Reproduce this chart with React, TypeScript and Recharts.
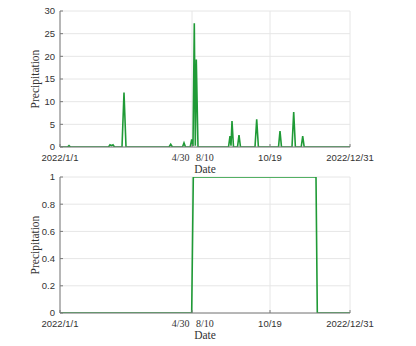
import React from 'react';
import { LineChart, Line, XAxis, YAxis, CartesianGrid } from 'recharts';

// x positions along the (non-uniform) date axis, in axis units
const rainTime = [0, 7.5, 9, 10.5, 48.5, 50, 51.5, 53, 54.5, 62, 64, 66, 109, 110.7, 112.4, 122.5, 124, 125.5, 130.2, 131.7, 133, 134.3, 135.3, 136.3, 138, 168.5, 170, 171, 172, 173.5, 177.5, 179, 180.5, 195, 196.7, 198.4, 218.5, 220, 221.5, 232, 233.7, 235.4, 241.2, 242.7, 244.2, 290];
const rainValues = [0, 0, 0.3, 0, 0, 0.5, 0.3, 0.5, 0, 0, 12, 0, 0, 0.6, 0, 0, 0.9, 0, 0, 1.7, 0.2, 27.3, 0.3, 19.3, 0, 0, 2.4, 0.3, 5.75, 0, 0, 2.6, 0, 0, 6.1, 0, 0, 3.5, 0, 0, 7.7, 0, 0, 2.4, 0, 0];

const flagTime = [0, 131.7, 133.3, 256, 257.3, 290];
const flagValues = [0, 0, 1, 1, 0, 0];

const xTickPositions = [0, 132, 210, 290];
const xTickLabels: string[][] = [['2022/1/1'], ['4/30', '8/10'], ['10/19'], ['2022/12/31']];
const xDomain = [0, 290];

const topYTicks = [0, 5, 10, 15, 20, 25, 30];
const bottomYTicks = [0, 0.2, 0.4, 0.6, 0.8, 1];

const xLabel = 'Date';
const yLabel = 'Precipitation';

const rainData = rainTime.map((t, i) => ({ t, v: rainValues[i] }));
const flagData = flagTime.map((t, i) => ({ t, v: flagValues[i] }));

const GREEN = '#1f9a36';
const AXIS = '#7a7a7a';
const TEXT = '#333333';
const SANS = '"Liberation Sans", Arial, sans-serif';
const SERIF = '"Liberation Serif", "Times New Roman", serif';

const LeftTick = (props: any) => {
  const { x, y, payload } = props;
  return (
    <g>
      <line x1={x} x2={x + 3} y1={y} y2={y} stroke={AXIS} />
      <text x={x - 5} y={y} dy="0.35em" textAnchor="end" fontSize={9.5} fontFamily={SANS} fill={TEXT}>
        {String(payload.value)}
      </text>
    </g>
  );
};

const RightTick = (props: any) => {
  const { x, y } = props;
  return <line x1={x - 3} x2={x} y1={y} y2={y} stroke={AXIS} />;
};

const TopTick = (props: any) => {
  const { x, y } = props;
  return <line x1={x} x2={x} y1={y} y2={y + 3} stroke={AXIS} />;
};

const BottomTick = (props: any) => {
  const { x, y, index } = props;
  const labels = xTickLabels[index] || [];
  return (
    <g>
      <line x1={x} x2={x} y1={y} y2={y - 3} stroke={AXIS} />
      {labels.length === 1 ? (
        <text x={x} y={y + 14} textAnchor="middle" fontSize={9.5} fontFamily={SANS} fill={TEXT}>
          {labels[0]}
        </text>
      ) : (
        <g>
          <text x={x - 2.5} y={y + 14} textAnchor="end" fontSize={10} fontFamily={SERIF} fill={TEXT}>
            {labels[0]}
          </text>
          <text x={x + 4} y={y + 14} textAnchor="start" fontSize={10} fontFamily={SERIF} fill={TEXT}>
            {labels[1]}
          </text>
        </g>
      )}
    </g>
  );
};

const Panel = ({ data, yDomain, yTicks }: { data: any[]; yDomain: number[]; yTicks: number[] }) => {
  const top = 11;
  const height = 180;
  const plotBottom = height - 33;
  return (
    <LineChart width={416} height={height} data={data} margin={{ top, right: 66, bottom: 0, left: 0 }}>
      <CartesianGrid stroke="#e6e6e6" strokeWidth={1} />
      <XAxis
        dataKey="t"
        type="number"
        domain={xDomain}
        ticks={xTickPositions}
        height={33}
        stroke={AXIS}
        tickLine={false}
        tickSize={0}
        tickMargin={0}
        tick={<BottomTick />}
        interval={0}
        allowDataOverflow
        label={{
          content: () => (
            <text x={205} y={plotBottom + 26} textAnchor="middle" fontSize={11.5} fontFamily={SERIF} fill={TEXT}>
              {xLabel}
            </text>
          ),
        }}
      />
      <XAxis
        xAxisId="top"
        orientation="top"
        dataKey="t"
        type="number"
        domain={xDomain}
        ticks={xTickPositions}
        height={0}
        stroke={AXIS}
        tickLine={false}
        tickSize={0}
        tickMargin={0}
        tick={<TopTick />}
        interval={0}
        allowDataOverflow
      />
      <YAxis
        type="number"
        domain={yDomain}
        ticks={yTicks}
        width={60}
        stroke={AXIS}
        tickLine={false}
        tickSize={0}
        tickMargin={0}
        tick={<LeftTick />}
        interval={0}
        allowDataOverflow
        label={{
          content: () => (
            <text
              x={35}
              y={(top + plotBottom) / 2}
              transform={`rotate(-90, 35, ${(top + plotBottom) / 2})`}
              textAnchor="middle"
              dy="0.35em"
              fontSize={11.5}
              fontFamily={SERIF}
              fill={TEXT}
            >
              {yLabel}
            </text>
          ),
        }}
      />
      <YAxis
        yAxisId="right"
        orientation="right"
        type="number"
        domain={yDomain}
        ticks={yTicks}
        width={0}
        stroke={AXIS}
        tickLine={false}
        tickSize={0}
        tickMargin={0}
        tick={<RightTick />}
        interval={0}
        allowDataOverflow
      />
      <Line
        type="linear"
        dataKey="v"
        stroke={GREEN}
        strokeWidth={1.6}
        dot={false}
        activeDot={false}
        isAnimationActive={false}
      />
    </LineChart>
  );
};

export default function App() {
  return (
    <div style={{ position: 'absolute', left: 0, top: 0, width: 416, height: 346, background: '#fff' }}>
      <div style={{ position: 'absolute', left: 0, top: 0 }}>
        <Panel data={rainData} yDomain={[0, 30]} yTicks={topYTicks} />
      </div>
      <div style={{ position: 'absolute', left: 0, top: 166 }}>
        <Panel data={flagData} yDomain={[0, 1]} yTicks={bottomYTicks} />
      </div>
    </div>
  );
}
